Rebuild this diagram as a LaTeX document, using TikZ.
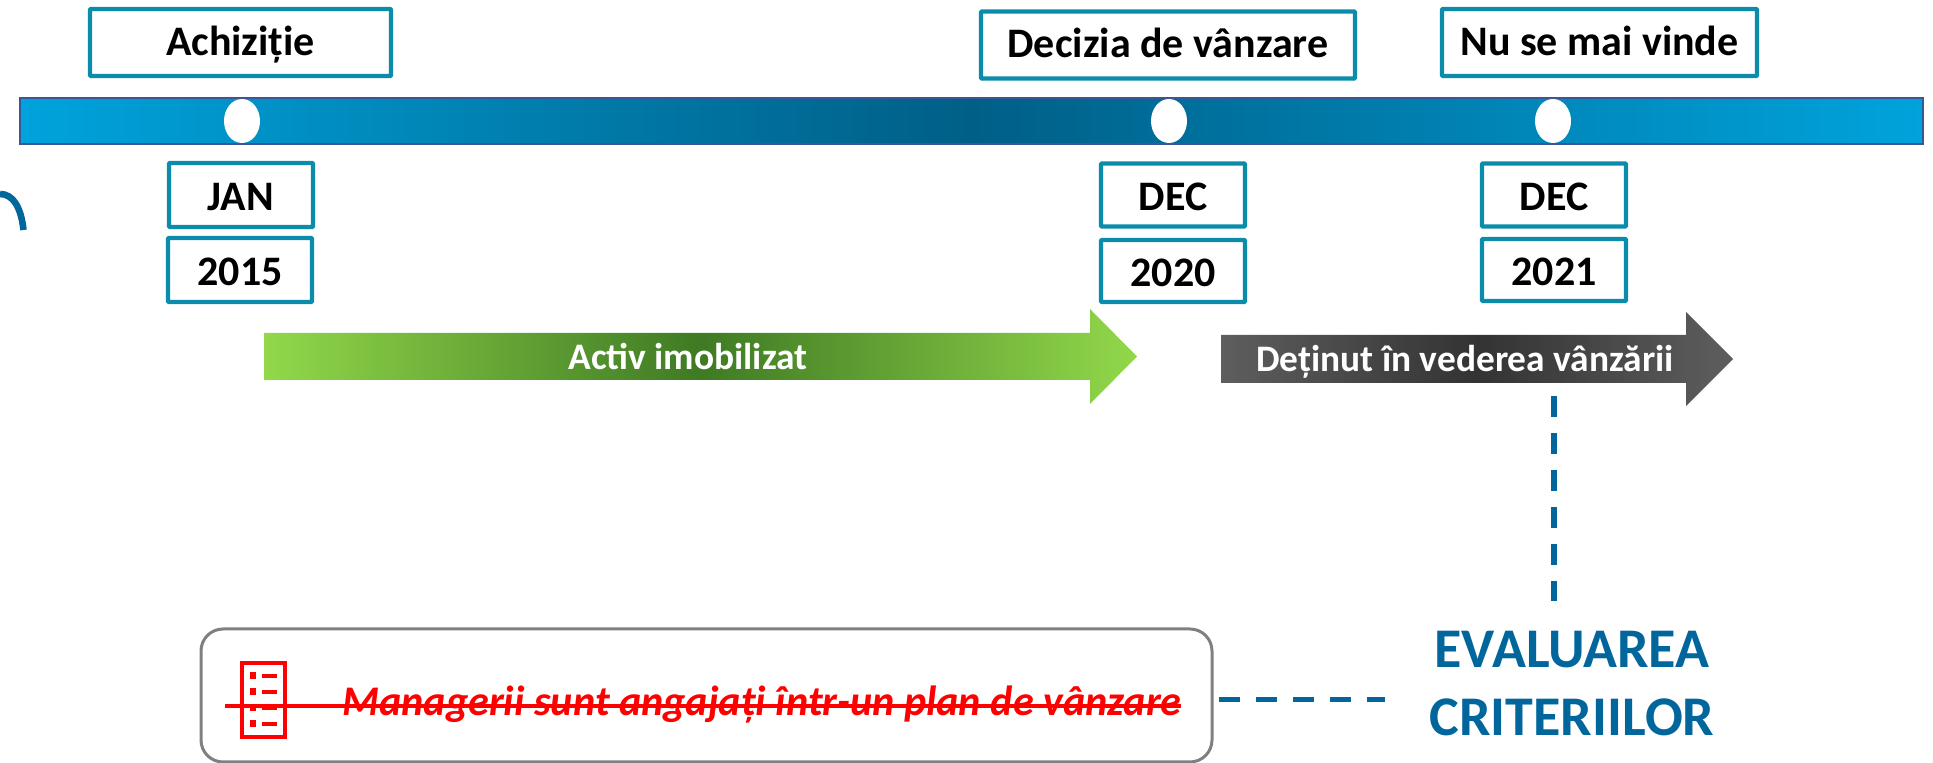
\documentclass[tikz,border=0pt]{standalone}
\usepackage{fontspec}
\setmainfont{Carlito}
\usetikzlibrary{shapes.geometric}
\definecolor{teal1}{HTML}{0A8CAA}
\definecolor{blue1}{HTML}{00669C}
\definecolor{red1}{HTML}{FF0000}
\definecolor{barend}{HTML}{00A3DC}
\definecolor{barmid}{HTML}{005F87}
\definecolor{baredge}{HTML}{3B5597}
\definecolor{greenend}{HTML}{92D84A}
\definecolor{greenmid}{HTML}{3F7A24}
\definecolor{grayend}{HTML}{5E5E5E}
\definecolor{graymid}{HTML}{333333}
\tikzset{
  px/.style={x=0.5pt,y=-0.5pt},
  tbox/.style={draw=teal1,line width=2.2pt,fill=white,inner sep=0pt,rounded corners=0.5pt,font=\fontsize{21}{25}\selectfont\bfseries,text=black,text height=13pt,text depth=0pt},
  datebox/.style={text height=15.4pt},
  dot/.style={ellipse,fill=white,minimum width=18pt,minimum height=22pt,inner sep=0pt},
  link/.style={draw=blue1,line width=2.7pt},
  arrowlabel/.style={inner sep=0pt,text=white,font=\fontsize{18.7}{22}\selectfont\bfseries,text height=12pt,text depth=0pt},
  crit/.style={inner sep=0pt,text=blue1,font=\fontsize{28}{33}\selectfont\bfseries},
  iconline/.style={draw=red1,line width=1.65pt},
}
\newcommand{\tb}[5]{\node[tbox,minimum width=#3*0.5pt,minimum height=#4*0.5pt] (#1) at (#2) {#5};}
\newcommand{\db}[5]{\node[tbox,datebox,minimum width=#3*0.5pt,minimum height=#4*0.5pt] (#1) at (#2) {#5};}
\begin{document}
\begin{tikzpicture}[px]
\useasboundingbox (0,0) rectangle (1933,763);
% timeline bar
\node[draw=baredge,line width=1pt,shading=axis,left color=barend,right color=barend,middle color=barmid,minimum width=1903*0.5pt,minimum height=46*0.5pt,inner sep=0pt] (bar) at (971.5,121) {};
\node[dot] (d1) at (242,121) {};
\node[dot] (d2) at (1169,121) {};
\node[dot] (d3) at (1553,121) {};
% boxes
\tb{ach}{240.5,42.5}{301}{67}{Achiziție}
\tb{dec}{1168,45}{374}{67}{Decizia de vânzare}
\tb{nu}{1599.5,42.5}{315}{67}{Nu se mai vinde}
\db{jan}{241,195}{144}{64}{JAN}
\db{y15}{240,270}{144}{64}{2015}
\db{dec1}{1173,195}{144}{63}{DEC}
\db{y20}{1173,271}{144}{62}{2020}
\db{dec2}{1554,195}{144}{63}{DEC}
\db{y21}{1554,270}{144}{62}{2021}
% arrows
\shade[left color=greenend,right color=greenend,middle color=greenmid]
  (264,333) -- (1090,333) -- (1090,309) -- (1137,356.5) -- (1090,404) -- (1090,380) -- (264,380) -- cycle;
\node[arrowlabel] (activ) at (688,358) {Activ imobilizat};
\shade[left color=grayend,right color=grayend,middle color=graymid]
  (1221,335) -- (1686,335) -- (1686,312) -- (1733,359) -- (1686,406) -- (1686,383) -- (1221,383) -- cycle;
\node[arrowlabel] (detinut) at (1465,360) {Deținut în vederea vânzării};
% evaluation
\node[crit] (ev) at (1572,650) {EVALUAREA};
\node[crit] (cr) at (1572,717) {CRITERIILOR};
\coordinate (v0) at (1554,396);
\coordinate (v1) at (1554,601);
\draw[link,dash pattern=on 10.5pt off 8pt] (v0) -- (v1);
% criterion box
\node[draw=gray,line width=1.5pt,rounded corners=11pt,fill=white,minimum width=1011*0.5pt,minimum height=133*0.5pt,inner sep=0pt] (mgr) at (706.5,695.5) {};
\coordinate (h0) at (1219,699.5);
\coordinate (h1) at (1385,699.5);
\draw[link,dash pattern=on 10.5pt off 8pt] (h0) -- (h1);
% icon
\draw[iconline,line width=2.1pt] (242,663) rectangle (285,737);
\foreach \yy in {676,692,708,724}{
  \fill[red1] (250,\yy-3.5) rectangle (256,\yy+3.5);
  \draw[iconline,line width=2pt] (262,\yy) -- (277,\yy);
}
\node[inner sep=0pt,text=red1,font=\fontsize{21.1}{25}\selectfont\bfseries\itshape,anchor=west] (txt) at (342,705) {Managerii sunt angajați într-un plan de vânzare};
\coordinate (s0) at (225,706);
\coordinate (s1) at (1181,706);
\draw[iconline] (s0) -- (s1);
% cut-off glyph at left edge
\draw[blue1,line width=3.3pt] (0,194) .. controls (13,194) and (21,207) .. (23.5,230);
\end{tikzpicture}
\end{document}
